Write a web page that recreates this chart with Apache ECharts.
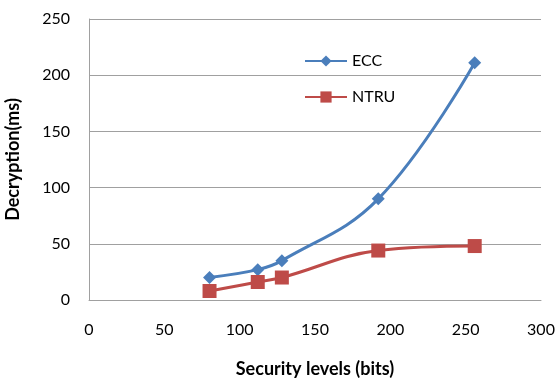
<!DOCTYPE html>
<html>
<head>
<meta charset="utf-8">
<script src="https://cdn.jsdelivr.net/npm/echarts@6/dist/echarts.min.js"></script>
<style>
  html, body { margin: 0; padding: 0; background: #fff; }
  #chart { width: 556px; height: 378px; }
</style>
</head>
<body>
<div id="chart"></div>
<script>
// Security level in bits, decryption time in ms
const securityBits = [80, 112, 128, 192, 256];
const eccDecrypt = [20, 27, 35, 90, 211];
const ntruDecrypt = [8, 16, 20, 44, 48];

const pairs = (xs, ys) => xs.map((x, i) => [x, ys[i]]);
const font = 'Lato, "Open Sans", sans-serif';

const chart = echarts.init(document.getElementById('chart'));
chart.setOption({
  animation: false,
  textStyle: { fontFamily: font },
  grid: { left: 89, right: 15, top: 19, bottom: 78, containLabel: false, outerBoundsMode: 'none' },
  legend: {
    orient: 'vertical',
    left: 299,
    top: 48,
    itemGap: 20,
    itemWidth: 42,
    itemHeight: 14,
    lineStyle: { width: 2 },
    textStyle: { fontFamily: font, fontSize: 16, color: '#000' },
    data: ['ECC', 'NTRU']
  },
  xAxis: {
    type: 'value',
    min: 0, max: 300, interval: 50,
    name: 'Security levels (bits)',
    nameLocation: 'middle',
    nameGap: 60,
    nameTextStyle: { fontFamily: font, fontSize: 18, fontWeight: 'bold', color: '#000' },
    axisLine: { show: true, lineStyle: { color: '#a0a0a0', width: 1 } },
    axisTick: { show: false },
    splitLine: { show: false },
    axisLabel: { margin: 22, fontFamily: font, fontSize: 16, color: '#000' }
  },
  yAxis: {
    type: 'value',
    min: 0, max: 250, interval: 50,
    name: 'Decryption(ms)',
    nameLocation: 'middle',
    nameGap: 67,
    nameTextStyle: { fontFamily: font, fontSize: 18, fontWeight: 'bold', color: '#000' },
    axisLine: { show: true, lineStyle: { color: '#a0a0a0', width: 1 } },
    axisTick: { show: false },
    splitLine: { show: true, lineStyle: { color: '#a0a0a0', width: 1 } },
    axisLabel: { margin: 19, fontFamily: font, fontSize: 16, color: '#000' }
  },
  series: [
    {
      name: 'ECC',
      type: 'line',
      smooth: 0.4,
      data: pairs(securityBits, eccDecrypt),
      symbol: 'diamond',
      symbolSize: 13,
      lineStyle: { color: '#4a7ebb', width: 3 },
      itemStyle: { color: '#4a7ebb' }
    },
    {
      name: 'NTRU',
      type: 'line',
      smooth: 0.4,
      data: pairs(securityBits, ntruDecrypt),
      symbol: 'rect',
      symbolSize: 14,
      lineStyle: { color: '#be4b48', width: 3 },
      itemStyle: { color: '#be4b48' }
    }
  ]
});
</script>
</body>
</html>
